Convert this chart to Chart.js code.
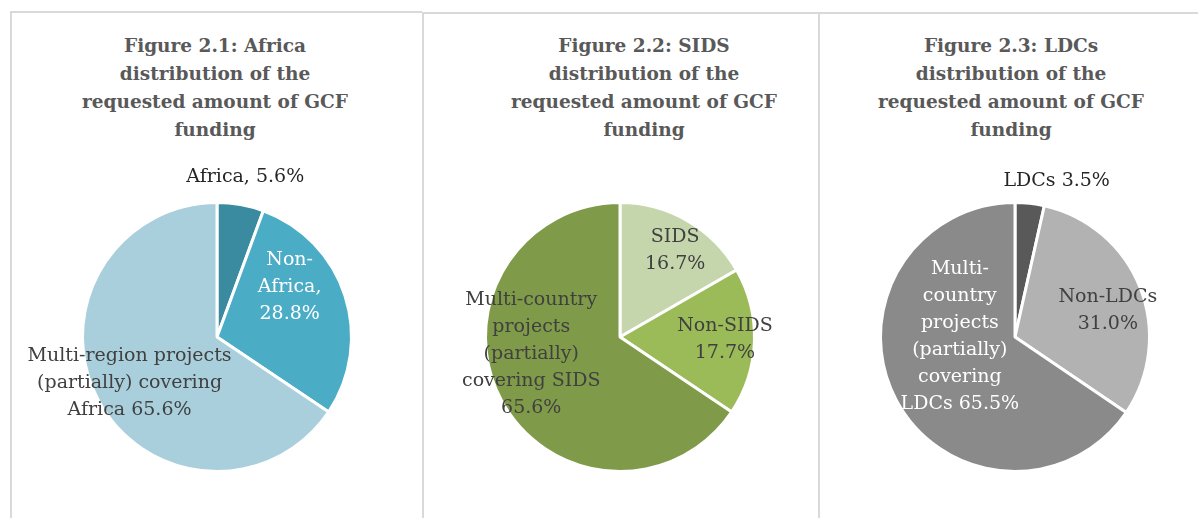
<!DOCTYPE html>
<html>
<head>
<meta charset="utf-8">
<script src="https://cdn.jsdelivr.net/npm/chart.js@4.4.1/dist/chart.umd.min.js"></script>
<style>
  body { margin: 0; width: 1198px; height: 518px; background: #fff; overflow: hidden; position: relative; }
  .pannello { position: absolute; top: 11px; height: 520px; border-top: 2px solid #d9d9d9; border-left: 2px solid #d9d9d9; }
  .titolo { position: absolute; top: 32px; width: 320px; text-align: center;
            font-family: "DejaVu Serif", serif; font-weight: bold; font-size: 18.5px; line-height: 28px; color: #595959; }
  .grafico { position: absolute; top: 150px; width: 400px; height: 368px; }
</style>
</head>
<body>

<div class="pannello" style="left:10px; width:410px;"></div>
<div class="pannello" style="left:422px; width:394px; top:12px;"></div>
<div class="pannello" style="left:818px; width:400px; top:12px;"></div>

<div class="titolo" style="left:55px;">Figure 2.1: Africa<br>distribution of the<br>requested amount of GCF<br>funding</div>
<div class="titolo" style="left:484px;">Figure 2.2: SIDS<br>distribution of the<br>requested amount of GCF<br>funding</div>
<div class="titolo" style="left:851px;">Figure 2.3: LDCs<br>distribution of the<br>requested amount of GCF<br>funding</div>

<div class="grafico" style="left:17px;"><canvas id="africa"></canvas></div>
<div class="grafico" style="left:420px;"><canvas id="sids"></canvas></div>
<div class="grafico" style="left:815px;"><canvas id="ldcs"></canvas></div>

<script>
// dati (percentuali)
let africaCategorie = ['Africa', 'Non-Africa', 'Multi-region projects (partially) covering Africa'];
let africaValori = [5.6, 28.8, 65.6];
let africaEtichette = [['Africa, 5.6%'], ['Non-', 'Africa,', '28.8%'], ['Multi-region projects', '(partially) covering', 'Africa 65.6%']];

let sidsCategorie = ['SIDS', 'Non-SIDS', 'Multi-country projects (partially) covering SIDS'];
let sidsValori = [16.7, 17.7, 65.6];
let sidsEtichette = [['SIDS', '16.7%'], ['Non-SIDS', '17.7%'], ['Multi-country', 'projects', '(partially)', 'covering SIDS', '65.6%']];

let ldcsCategorie = ['LDCs', 'Non-LDCs', 'Multi-country projects (partially) covering LDCs'];
let ldcsValori = [3.5, 31.0, 65.5];
let ldcsEtichette = [['LDCs 3.5%'], ['Non-LDCs', '31.0%'], ['Multi-', 'country', 'projects', '(partially)', 'covering', 'LDCs 65.5%']];

// plugin per scrivere le etichette sulle fette
let etichettePlugin = {
    id: 'etichette',
    afterDatasetsDraw(chart, args, opts) {
        let ctx = chart.ctx;
        let archi = chart.getDatasetMeta(0).data;
        ctx.save();
        ctx.font = '19px "DejaVu Serif", serif';
        ctx.textAlign = 'center';
        ctx.textBaseline = 'middle';
        archi.forEach((arco, i) => {
            let r = arco.outerRadius;
            let righe = opts.testi[i];
            let px = arco.x + opts.spost[i][0] * r;
            let py = arco.y + opts.spost[i][1] * r;
            let inizio = py - (righe.length - 1) * 27 / 2;
            ctx.fillStyle = opts.colori[i];
            righe.forEach((riga, k) => ctx.fillText(riga, px, inizio + k * 27));
        });
        ctx.restore();
    }
};

function creaTorta(id, categorie, valori, colori, testi, spost, coloriTesto) {
    let ctx = document.getElementById(id).getContext('2d');
    new Chart(ctx, {
        type: 'pie',
        data: {
            labels: categorie,
            datasets: [{
                data: valori,
                backgroundColor: colori,
                borderColor: '#ffffff',
                borderWidth: 3
            }]
        },
        options: {
            responsive: true,
            maintainAspectRatio: false,
            animation: false,
            layout: { padding: { top: 51, bottom: 45 } },
            plugins: {
                legend: { display: false },
                tooltip: { enabled: false },
                etichette: { testi: testi, spost: spost, colori: coloriTesto }
            }
        },
        plugins: [etichettePlugin]
    });
}

creaTorta('africa', africaCategorie, africaValori,
    ['#3a8ba0', '#4bacc6', '#a9cfdc'], africaEtichette,
    [[0.21, -1.19], [0.54, -0.37], [-0.65, 0.34]],
    ['#262626', '#ffffff', '#404040']);

creaTorta('sids', sidsCategorie, sidsValori,
    ['#c6d6ac', '#9bbb59', '#7f9a48'], sidsEtichette,
    [[0.41, -0.64], [0.78, 0.02], [-0.66, 0.13]],
    ['#404040', '#404040', '#404040']);

creaTorta('ldcs', ldcsCategorie, ldcsValori,
    ['#595959', '#b2b2b2', '#8a8a8a'], ldcsEtichette,
    [[0.31, -1.16], [0.69, -0.20], [-0.41, 0.0]],
    ['#262626', '#404040', '#ffffff']);
</script>
</body>
</html>
